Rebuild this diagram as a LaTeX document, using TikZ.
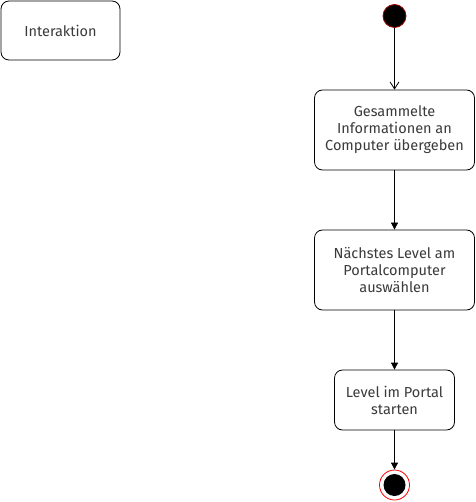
\documentclass[tikz,border=0pt]{standalone}
\usepackage{fontspec}
\setmainfont{Fira Sans}
\usetikzlibrary{arrows.meta}
\definecolor{txt}{HTML}{3A3A3A}
\definecolor{startred}{HTML}{990000}
\definecolor{endred}{HTML}{FF0000}
\tikzset{
  px/.style={x=1pt,y=-1pt},
  actbox/.style={draw=black, line width=0.8pt, rounded corners=8pt, fill=white, align=center,
    font=\fontsize{14.5}{17}\selectfont, text=txt, inner sep=0pt},
  flow/.style={draw=black, line width=0.8pt, -{Triangle[length=7pt,width=7pt]}},
  openflow/.style={draw=black, line width=0.8pt, -{Straight Barb[length=7pt,width=9pt]}},
}
\begin{document}
\begin{tikzpicture}[px]
\useasboundingbox (0,0) rectangle (475,502);
\node[actbox, minimum width=119pt, minimum height=59pt] (inter) at (60.5,30.5) {Interaktion};
\node[circle, fill=black, draw=startred, line width=0.8pt, minimum size=23pt, inner sep=0pt] (start) at (394.5,16) {};
\node[actbox, minimum width=160pt, minimum height=80pt] (b1) at (394.5,130) {Gesammelte\\Informationen an\\Computer übergeben};
\node[actbox, minimum width=160pt, minimum height=80pt] (b2) at (394.5,270) {Nächstes Level am\\Portalcomputer\\auswählen};
\node[actbox, minimum width=120pt, minimum height=60pt] (b3) at (394.5,400) {Level im Portal\\starten};
\node[circle, draw=endred, line width=0.8pt, fill=white, minimum size=30pt, inner sep=0pt] (end) at (394.5,485) {};
\node[circle, fill=black, minimum size=22pt, inner sep=0pt] at (end.center) {};
\draw[openflow] (start) -- (b1.north);
\draw[flow] (b1.south) -- (b2.north);
\draw[flow] (b2.south) -- (b3.north);
\draw[flow] (b3.south) -- (end.north);
\end{tikzpicture}
\end{document}
